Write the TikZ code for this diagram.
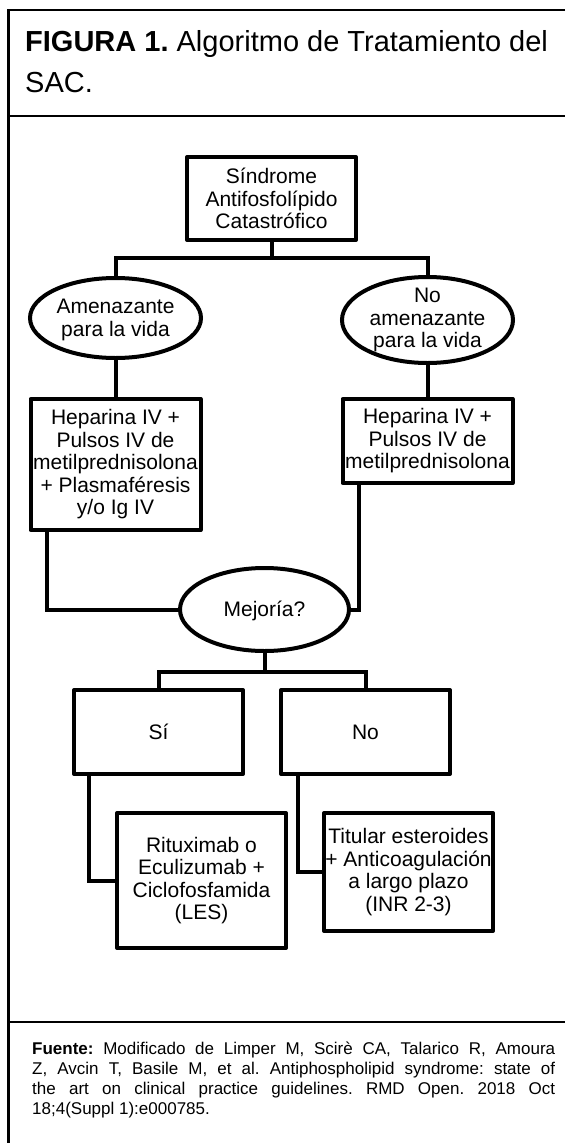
\documentclass[tikz,border=0pt]{standalone}
\usepackage{fontspec}
\setmainfont{Liberation Sans}
\usetikzlibrary{shapes.geometric}
\begin{document}
\frenchspacing
\begin{tikzpicture}[x=1pt,y=-1pt,
  frame/.style={line width=2.8pt},
  box/.style={draw, line width=4pt, line join=round, inner sep=0pt, outer sep=0pt, align=center, font=\fontsize{21}{22.5}\selectfont},
  ell/.style={draw, ellipse, line width=4pt, inner sep=0pt, outer sep=0pt},
  txt/.style={align=center, inner sep=0pt, font=\fontsize{21}{22.5}\selectfont},
  conn/.style={line width=4pt},
  src/.style={anchor=base west, inner sep=0pt, font=\fontsize{17}{20}\selectfont},
  ttl/.style={anchor=base west, inner sep=0pt, font=\fontsize{29}{33}\selectfont}]
\useasboundingbox (0,0) rectangle (565,1143);
\fill[white] (0,0) rectangle (565,1143);
% frame
\draw[frame] (565,10) -- (8.5,10) -- (8.5,1143);
\draw[frame] (8.5,116) -- (565,116);
\draw[frame] (8.5,1022) -- (565,1022);
% title
\node[ttl] (title1) at (25,51) {\textbf{FIGURA 1.} Algoritmo de Tratamiento del};
\node[ttl] (title2) at (25,92) {SAC.};
% boxes
\node[box, minimum width=169pt, minimum height=83pt] (top) at (271.5,198.5) {Síndrome\\Antifosfolípido\\Catastrófico};
\node[ell, minimum width=171pt, minimum height=80pt] (amen) at (115.5,318) {};
\node[txt] (amentxt) at (115.5,320) {Amenazante\\para la vida};
\node[ell, minimum width=171pt, minimum height=86pt] (noamen) at (427.5,320) {};
\node[txt] (noamentxt) at (427.5,320) {No\\amenazante\\para la vida};
\node[box, minimum width=170pt, minimum height=131pt] (lbox) at (115.5,464.5) {Heparina IV +\\Pulsos IV de\\metilprednisolona\\+ Plasmaféresis\\y/o Ig IV};
\node[box, minimum width=170pt, minimum height=84pt] (rbox) at (427.5,441) {Heparina IV +\\Pulsos IV de\\metilprednisolona};
\node[ell, minimum width=169pt, minimum height=83pt] (mej) at (264.5,609.5) {};
\node[txt] (mejtxt) at (264.5,611) {Mejoría?};
\node[box, minimum width=169pt, minimum height=84pt] (si) at (158.5,732) {Sí};
\node[box, minimum width=169pt, minimum height=84pt] (no) at (365.5,732) {No};
\node[box, minimum width=169pt, minimum height=135pt] (rit) at (201.5,880.5) {Rituximab o\\Eculizumab +\\Ciclofosfamida\\(LES)};
\node[box, minimum width=169pt, minimum height=118pt] (tit) at (408.5,872) {Titular esteroides\\+ Anticoagulación\\a largo plazo\\(INR 2-3)};
% connectors
\coordinate (j1) at (271.5,258);
\draw[conn] (top.south) -- (j1);
\draw[conn] (amen.north) |- (j1) -| (noamen.north);
\draw[conn] (amen.south) -- (lbox.north);
\draw[conn] (noamen.south) -- (rbox.north);
\draw[conn] ([xshift=16pt]lbox.south west) |- (mej.west);
\draw[conn] ([xshift=16pt]rbox.south west) |- (mej.east);
\coordinate (j2) at (264.5,672);
\draw[conn] (mej.south) -- (j2);
\draw[conn] (si.north) |- (j2) -| (no.north);
\draw[conn] ([xshift=15pt]si.south west) |- (rit.west);
\draw[conn] ([xshift=17pt]no.south west) |- (tit.west);
% source
\node[src] (s1) at (32,1054) {\makebox[523pt][s]{\textbf{Fuente:} Modificado de Limper M, Scirè CA, Talarico R, Amoura}};
\node[src] (s2) at (32,1074) {\makebox[523pt][s]{Z, Avcin T, Basile M, et al. Antiphospholipid syndrome: state of}};
\node[src] (s3) at (32,1094) {\makebox[523pt][s]{the art on clinical practice guidelines. RMD Open. 2018 Oct}};
\node[src] (s4) at (32,1114) {18;4(Suppl 1):e000785.};
\end{tikzpicture}
\end{document}
